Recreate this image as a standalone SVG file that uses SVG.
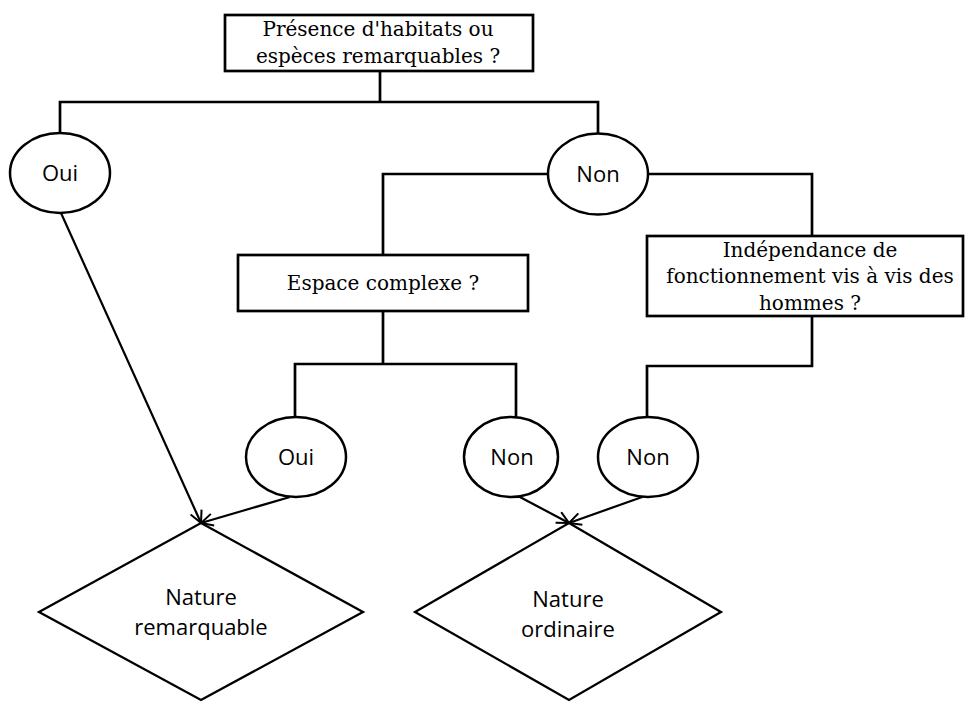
<svg xmlns="http://www.w3.org/2000/svg" width="965" height="702" viewBox="0 0 965 702">
<defs>
<style>
.box{fill:#fff;stroke:#000;stroke-width:2.7}
.ell{fill:#fff;stroke:#000;stroke-width:2.5}
.dia{fill:#fff;stroke:#000;stroke-width:2.3}
.ser{font-family:"DejaVu Serif","Liberation Serif",serif;font-size:20px;fill:#000;text-anchor:middle}
.san{font-family:"Open Sans","Liberation Sans",sans-serif;font-size:22px;fill:#000;text-anchor:middle}
.con{fill:none;stroke:#000;stroke-width:2.7}
.arr{fill:none;stroke:#000;stroke-width:2.2;marker-end:url(#ah)}
</style>
<marker id="ah" viewBox="0 0 14 14" refX="13" refY="7" markerWidth="14" markerHeight="14" markerUnits="userSpaceOnUse" orient="auto">
<path d="M1,1 L13,7 L1,13" fill="none" stroke="#000" stroke-width="2"/>
</marker>
</defs>
<rect width="965" height="702" fill="#fff"/>
<g id="connectors">
<path class="con" d="M380,71 V102 M60,133 V102 H598 V133"/>
<path class="con" d="M548,174 H383 V255 M648,174 H812 V236"/>
<path class="con" d="M383,311 V364 M295,417 V364 H516 V417"/>
<path class="con" d="M812,316 V366 H647 V417"/>
<path class="arr" d="M61,213 L201,523"/>
<path class="arr" d="M290,497 L201,523"/>
<path class="arr" d="M518,496 L569,523"/>
<path class="arr" d="M645,496 L569,523"/>
</g>
<g id="q1">
<rect class="box" x="225" y="15" width="308" height="56"/>
<text class="ser" x="378" y="36">Présence d'habitats ou</text>
<text class="ser" x="378" y="63">espèces remarquables ?</text>
</g>
<g id="oui1">
<ellipse class="ell" cx="60" cy="173" rx="50" ry="40"/>
<text class="san" x="60" y="181">Oui</text>
</g>
<g id="non1">
<ellipse class="ell" cx="598" cy="174" rx="50" ry="40.5"/>
<text class="san" x="598" y="182">Non</text>
</g>
<g id="q2">
<rect class="box" x="238" y="255" width="290" height="56"/>
<text class="ser" x="383" y="290">Espace complexe ?</text>
</g>
<g id="q3">
<rect class="box" x="647" y="236" width="316" height="80"/>
<text class="ser" x="810" y="257">Indépendance de</text>
<text class="ser" x="810" y="283">fonctionnement vis à vis des</text>
<text class="ser" x="810" y="310">hommes ?</text>
</g>
<g id="oui2">
<ellipse class="ell" cx="296" cy="457" rx="50" ry="40"/>
<text class="san" x="296" y="465">Oui</text>
</g>
<g id="non2">
<ellipse class="ell" cx="511" cy="457" rx="47" ry="40"/>
<text class="san" x="512" y="465">Non</text>
</g>
<g id="non3">
<ellipse class="ell" cx="648" cy="457" rx="50" ry="40"/>
<text class="san" x="648" y="465">Non</text>
</g>
<g id="nr">
<polygon class="dia" points="201,523 363,612 201,700 39,612"/>
<text class="san" x="201" y="605">Nature</text>
<text class="san" x="201" y="635">remarquable</text>
</g>
<g id="no">
<polygon class="dia" points="569,523 721,612 569,700 415,612"/>
<text class="san" x="568" y="607">Nature</text>
<text class="san" x="568" y="637">ordinaire</text>
</g>
</svg>
